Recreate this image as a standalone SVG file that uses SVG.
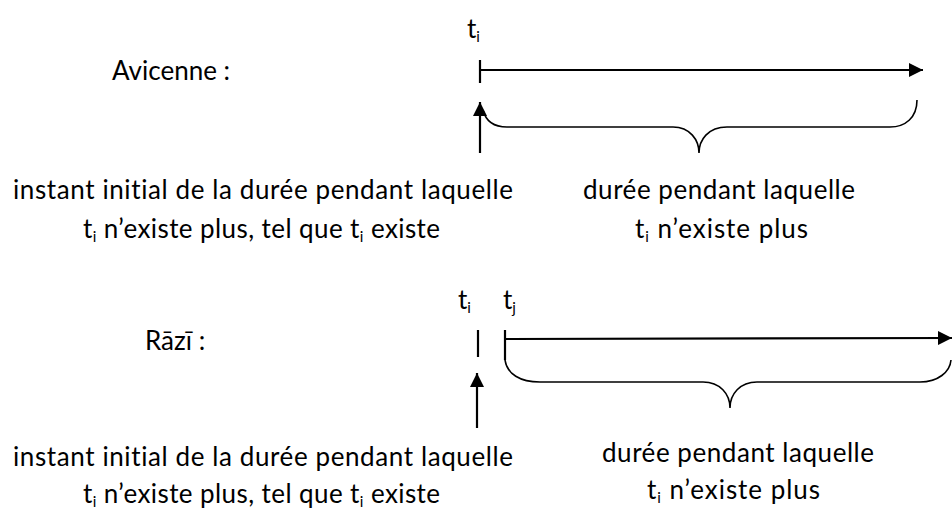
<svg xmlns="http://www.w3.org/2000/svg" width="952" height="513" viewBox="0 0 952 513">
<style>
text{font-family:Lato,"Open Sans","Liberation Sans",sans-serif;font-size:26px;fill:#000;font-variant-ligatures:none}
.sub{font-size:15px}
.ln{stroke:#000;stroke-width:2.2;fill:none}
.br{stroke:#000;stroke-width:1.6;fill:none}
</style>
<defs>
<marker id="ah" viewBox="0 0 10 10" refX="10" refY="5" markerWidth="14" markerHeight="14" markerUnits="userSpaceOnUse" orient="auto"><path d="M0,0 L10,5 L0,10 z" fill="#000"/></marker>
</defs>
<rect width="952" height="513" fill="#fff"/>
<g id="avicenne">
<g id="avicenne-label"><text x="112" y="80">Avicenne :</text></g>
<g id="avicenne-ti"><text x="467" y="38">t<tspan class="sub" dy="4">i</tspan></text></g>
<g id="avicenne-caption1">
<text x="13" y="199" textLength="500" lengthAdjust="spacing">instant initial de la durée pendant laquelle</text>
<text x="83" y="238" textLength="357" lengthAdjust="spacing">t<tspan class="sub" dy="4">i</tspan><tspan dy="-4"> n’existe plus, tel que t</tspan><tspan class="sub" dy="4">i</tspan><tspan dy="-4"> existe</tspan></text>
</g>
<g id="avicenne-caption2">
<text x="583" y="199" textLength="272" lengthAdjust="spacing">durée pendant laquelle</text>
<text x="635" y="238" textLength="173" lengthAdjust="spacing">t<tspan class="sub" dy="4">i</tspan><tspan dy="-4"> n’existe plus</tspan></text>
</g>
</g>
<g id="razi">
<g id="razi-label"><text x="145" y="350">Rāzī :</text></g>
<g id="razi-ti"><text x="458" y="309">t<tspan class="sub" dy="4">i</tspan></text></g>
<g id="razi-tj"><text x="503" y="309">t<tspan class="sub" dy="4">j</tspan></text></g>
<g id="razi-caption1">
<text x="13" y="466" textLength="500" lengthAdjust="spacing">instant initial de la durée pendant laquelle</text>
<text x="83" y="503" textLength="357" lengthAdjust="spacing">t<tspan class="sub" dy="4">i</tspan><tspan dy="-4"> n’existe plus, tel que t</tspan><tspan class="sub" dy="4">i</tspan><tspan dy="-4"> existe</tspan></text>
</g>
<g id="razi-caption2">
<text x="602" y="462" textLength="272" lengthAdjust="spacing">durée pendant laquelle</text>
<text x="647" y="499" textLength="173" lengthAdjust="spacing">t<tspan class="sub" dy="4">i</tspan><tspan dy="-4"> n’existe plus</tspan></text>
</g>
</g>
<g id="connectors">
<line class="ln" x1="480" y1="60" x2="480" y2="83"/>
<line class="ln" x1="480" y1="70" x2="923" y2="70" marker-end="url(#ah)"/>
<line class="ln" x1="480" y1="153" x2="480" y2="102" marker-end="url(#ah)"/>
<path class="br" d="M483,110 C486,122 495,127 507,127 L673,127 C690,127 699,140 699,153 C699,140 708,127 727,127 L890,127 C905,127 917,118 917,100"/>
<line class="ln" x1="478" y1="330" x2="478" y2="357"/>
<line class="ln" x1="505" y1="330" x2="505" y2="360"/>
<line class="ln" x1="505" y1="339" x2="952" y2="338" marker-end="url(#ah)"/>
<line class="ln" x1="477" y1="428" x2="477" y2="373" marker-end="url(#ah)"/>
<path class="br" d="M505,360 C507,374 520,382 540,382 L703,382 C720,382 730,394 730,408 C730,394 740,382 757,382 L920,382 C938,382 950,372 951,360"/>
</g>
</svg>
